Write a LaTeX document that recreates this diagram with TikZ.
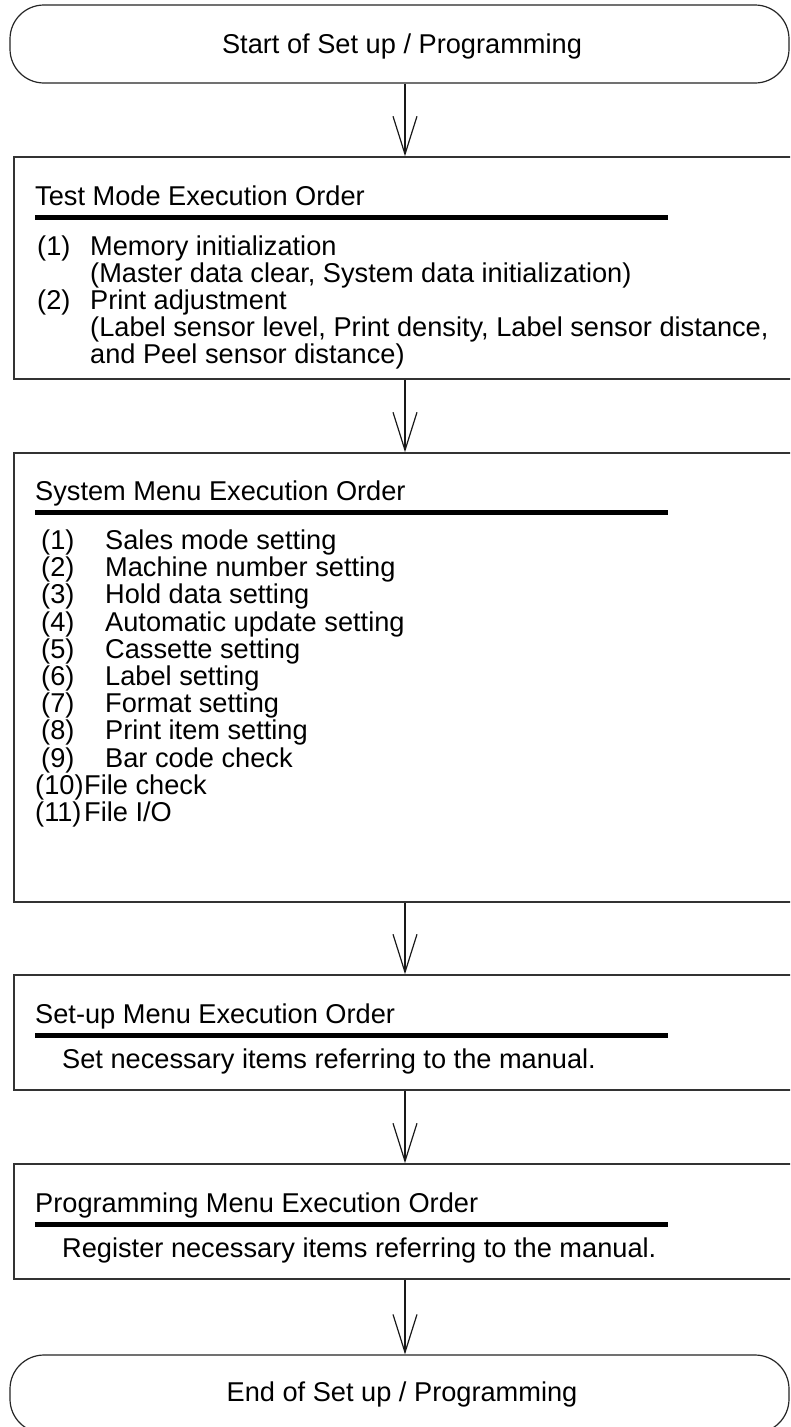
\documentclass[tikz,border=0pt]{standalone}
\usepackage{fontspec}
\setmainfont{Liberation Sans}
\usetikzlibrary{arrows.meta}
\tikzset{
  frame/.style={draw=black!80, line width=1.5pt, rectangle, inner sep=0pt, minimum width=786pt},
  term/.style={draw=black!85, line width=1.2pt, rectangle, rounded corners=34pt, inner sep=0pt, minimum width=779pt, minimum height=78pt},
  txt/.style={anchor=base west, inner sep=0pt, font=\fontsize{27.2}{27.2}\selectfont},
  uline/.style={line width=5pt, black},
  arr/.style={draw=black!90, line width=1.2pt, -{Straight Barb[length=38pt,width=24pt,line width=1.2pt]}}
}
\begin{document}
\begin{tikzpicture}[x=1pt,y=-1pt]
\clip (0,0) rectangle (790,1427);
\fill[white] (0,0) rectangle (790,1427);
% terminals
\node[term] (start) at (399.5,44) {};
\node[txt, anchor=base] (starttxt) at (402,53.5) {Start of Set up / Programming};
\node[term] (stop) at (399.5,1394) {};
\node[txt, anchor=base] (stoptxt) at (402,1401.5) {End of Set up / Programming};
% boxes
\node[frame, minimum height=222pt] (b1) at (407,268) {};
\node[frame, minimum height=449pt] (b2) at (407,677.5) {};
\node[frame, minimum height=115pt] (b3) at (407,1032.5) {};
\node[frame, minimum height=115pt] (b4) at (407,1221.5) {};
\coordinate (ax) at (405,0);
\draw[arr] (start.south -| ax) -- (b1.north -| ax);
\draw[arr] (b1.south -| ax) -- (b2.north -| ax);
\draw[arr] (b2.south -| ax) -- (b3.north -| ax);
\draw[arr] (b3.south -| ax) -- (b4.north -| ax);
\draw[arr] (b4.south -| ax) -- (stop.north -| ax);
% box 1
\node[txt] (t1) at (35,205) {Test Mode Execution Order};
\draw[uline] (35,217) -- (668,217);
\node[txt] (t1n1) at (37,255) {(1)};
\node[txt] (t1a) at (90,255) {Memory initialization};
\node[txt] (t1b) at (90,282) {(Master data clear, System data initialization)};
\node[txt] (t1n2) at (37,309) {(2)};
\node[txt] (t1c) at (90,309) {Print adjustment};
\node[txt] (t1d) at (90,336) {(Label sensor level, Print density, Label sensor distance,};
\node[txt] (t1e) at (90,363) {and Peel sensor distance)};
% box 2
\node[txt] (t2) at (35,500) {System Menu Execution Order};
\draw[uline] (35,512) -- (668,512);
\foreach \n/\t [count=\i from 0] in {1/Sales mode setting,2/Machine number setting,3/Hold data setting,4/Automatic update setting,5/Cassette setting,6/Label setting,7/Format setting,8/Print item setting,9/Bar code check}{
  \node[txt] (s\n) at (41,549.5+27.2*\i) {(\n)};
  \node[txt] (st\n) at (105,549.5+27.2*\i) {\t};
}
\node[txt] (s10) at (35,794.3) {(10)};
\node[txt] (st10) at (84,794.3) {File check};
\node[txt] (s11) at (35,821.5) {(11)};
\node[txt] (st11) at (84,821.5) {File I/O};
% box 3
\node[txt] (t3) at (35,1023) {Set-up Menu Execution Order};
\draw[uline] (35,1035) -- (668,1035);
\node[txt] (t3a) at (62,1068) {Set necessary items referring to the manual.};
% box 4
\node[txt] (t4) at (35,1212) {Programming Menu Execution Order};
\draw[uline] (35,1224) -- (668,1224);
\node[txt] (t4a) at (62,1257) {Register necessary items referring to the manual.};
\end{tikzpicture}
\end{document}
